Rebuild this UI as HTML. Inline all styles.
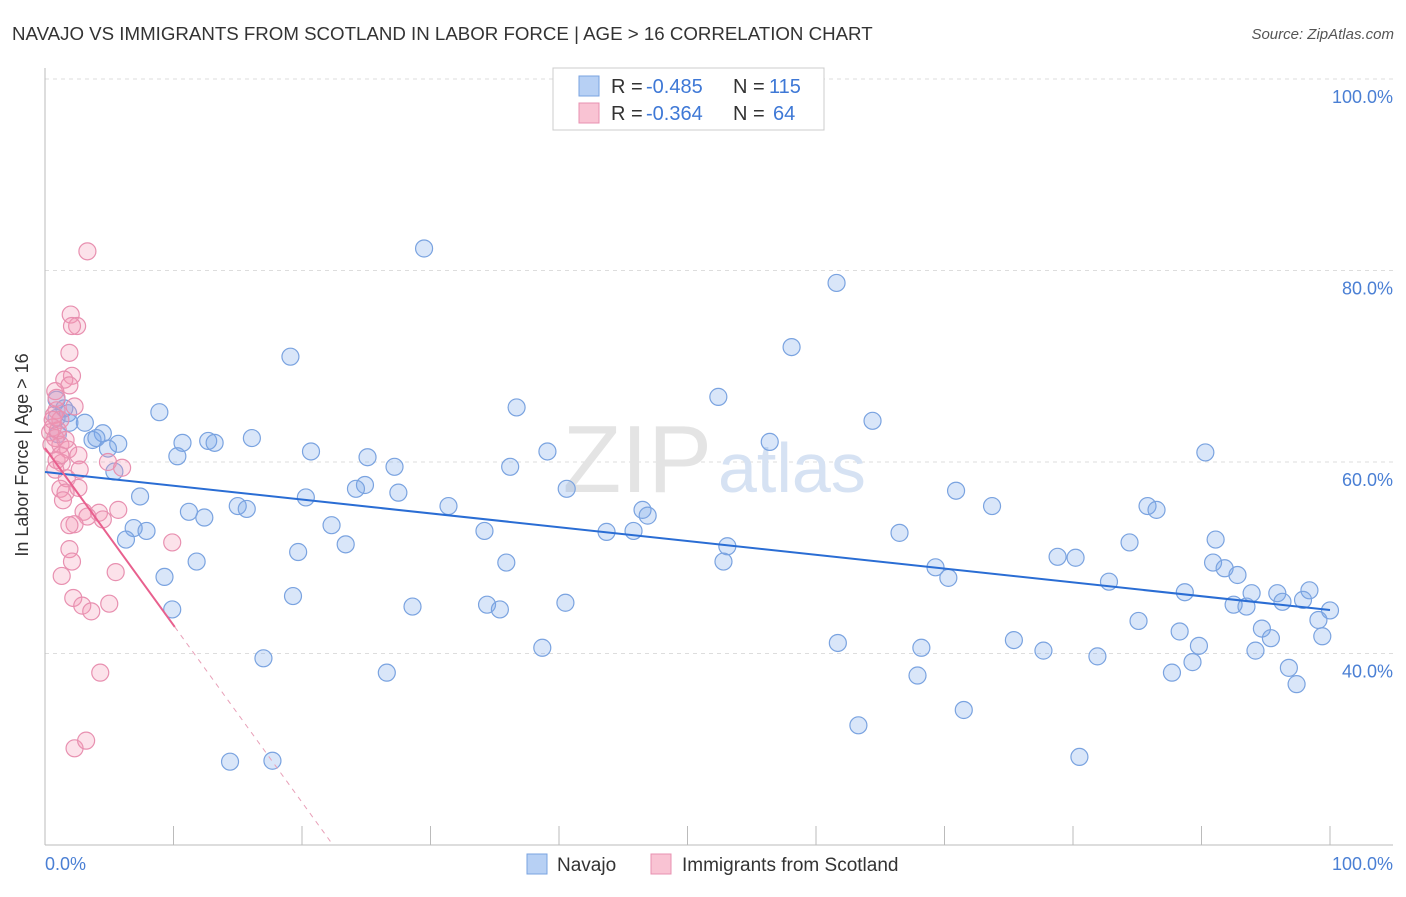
<!DOCTYPE html>
<html><head><meta charset="utf-8"><style>
body{margin:0;background:#fff;font-family:"Liberation Sans",sans-serif;}
svg text{font-family:"Liberation Sans",sans-serif;}
</style></head><body>
<svg width="1406" height="892">
<text x="12" y="40" font-size="18.7" fill="#333">NAVAJO VS IMMIGRANTS FROM SCOTLAND IN LABOR FORCE | AGE &gt; 16 CORRELATION CHART</text>
<text x="1394" y="39" font-size="15" fill="#555" text-anchor="end" font-style="italic">Source: ZipAtlas.com</text>
<g id="grid"></g>
<text x="712" y="492" font-size="96" fill="#e4e4e4" text-anchor="end" font-family="Liberation Serif">ZIP</text>
<text x="718" y="492" font-size="70" fill="#d6e2f3">atlas</text>
<line x1="45" y1="68" x2="45" y2="845" stroke="#bbb"/>
<line x1="45" y1="845" x2="1393" y2="845" stroke="#bbb"/>
<g id="ticks"></g>
<g id="pts"></g>
<g id="trends"></g>
<text x="28" y="455" font-size="18" fill="#333" text-anchor="middle" transform="rotate(-90 28 455)">In Labor Force | Age &gt; 16</text>
<text x="45" y="870" font-size="18" fill="#4a7fd4">0.0%</text>
<text x="1393" y="870" font-size="18" fill="#4a7fd4" text-anchor="end">100.0%</text>
<g>
<rect x="553" y="68" width="271" height="62" fill="#fff" stroke="#ccc"/>
<rect x="579" y="76" width="20" height="20" fill="#b7d0f4" stroke="#7aa3e0"/>
<rect x="579" y="103" width="20" height="20" fill="#f9c3d3" stroke="#e890b0"/>
<text x="611" y="93" font-size="20" fill="#333">R =</text>
<text x="646" y="93" font-size="20" fill="#3e78d6">-0.485</text>
<text x="733" y="93" font-size="20" fill="#333">N =</text>
<text x="769" y="93" font-size="20" fill="#3e78d6">115</text>
<text x="611" y="120" font-size="20" fill="#333">R =</text>
<text x="646" y="120" font-size="20" fill="#3e78d6">-0.364</text>
<text x="733" y="120" font-size="20" fill="#333">N =</text>
<text x="773" y="120" font-size="20" fill="#3e78d6">64</text>
</g>
<g>
<rect x="527" y="854" width="20" height="20" fill="#b7d0f4" stroke="#7aa3e0"/>
<text x="557" y="871" font-size="19" fill="#333">Navajo</text>
<rect x="651" y="854" width="20" height="20" fill="#f9c3d3" stroke="#e890b0"/>
<text x="682" y="871" font-size="19" fill="#333">Immigrants from Scotland</text>
</g>
</svg>
<script>
const yTicks=[40,60,80,100];
const yTickLabels=["40.0%","60.0%","80.0%","100.0%"];
const xTicks=[10,20,30,40,50,60,70,80,90,100];
const navajoX=[29.5,61.6,58.1,19.1,52.4,36.7,8.9,64.4,10.7,12.7,13.2,16.1,56.4,90.3,20.7,39.1,10.3,25.1,27.2,36.2,5.4,24.9,24.2,27.5,40.6,70.9,7.4,20.3,31.4,15.0,15.7,73.7,85.8,86.5,46.5,46.9,11.2,12.4,22.3,34.2,43.7,45.8,66.5,6.9,7.9,6.3,23.4,91.1,84.4,53.1,19.7,78.8,80.2,52.8,35.9,11.8,90.9,91.8,69.3,92.8,9.3,70.3,82.8,88.7,93.9,95.9,98.4,96.3,97.9,19.3,34.4,35.4,40.5,28.6,92.5,93.5,9.9,100,85.1,99.1,94.7,88.3,95.4,99.4,75.4,61.7,68.2,77.7,89.8,38.7,81.9,94.2,17.0,89.3,96.8,26.6,87.7,67.9,97.4,71.5,63.3,14.4,17.7,80.5,0.9,1.5,1.8,0.9,3.1,4.5,3.7,4.0,5.7,4.9,1.0,1.9];
const navajoY=[82.3,78.7,72.0,71.0,66.8,65.7,65.2,64.3,62.0,62.2,62.0,62.5,62.1,61.0,61.1,61.1,60.6,60.5,59.5,59.5,59.0,57.6,57.2,56.8,57.2,57.0,56.4,56.3,55.4,55.4,55.1,55.4,55.4,55.0,55.0,54.4,54.8,54.2,53.4,52.8,52.7,52.8,52.6,53.1,52.8,51.9,51.4,51.9,51.6,51.2,50.6,50.1,50.0,49.6,49.5,49.6,49.5,48.9,49.0,48.2,48.0,47.9,47.5,46.4,46.3,46.3,46.6,45.4,45.6,46.0,45.1,44.6,45.3,44.9,45.1,44.9,44.6,44.5,43.4,43.5,42.6,42.3,41.6,41.8,41.4,41.1,40.6,40.3,40.8,40.6,39.7,40.3,39.5,39.1,38.5,38.0,38.0,37.7,36.8,34.1,32.5,28.7,28.8,29.2,66.5,65.6,65.1,64.6,64.1,63.0,62.3,62.5,61.9,61.4,62.9,64.1];
const scotX=[3.3,2.0,2.5,2.1,1.9,2.1,1.5,1.9,0.8,2.3,0.9,0.7,1.2,0.6,0.4,0.8,1.2,1.8,2.6,0.9,1.3,4.9,6.0,0.8,1.7,2.6,1.2,1.6,1.4,3.0,4.2,5.7,4.5,3.3,2.3,1.9,1.9,2.1,9.9,5.5,1.3,2.2,2.9,5.0,3.6,4.3,2.3,3.2,0.9,1.0,0.5,1.6,2.7,1.2,0.6];
const scotY=[82.0,75.4,74.2,74.2,71.4,69.0,68.6,68.0,67.4,65.8,65.4,64.9,64.4,63.6,63.1,62.5,61.8,61.3,60.7,60.2,59.9,60.0,59.4,59.2,58.3,57.3,57.2,56.8,56.0,54.8,54.7,55.0,54.0,54.3,53.5,53.4,50.9,49.6,51.6,48.5,48.1,45.8,45.0,45.2,44.4,38.0,30.1,30.9,66.7,63.3,61.8,62.3,59.2,60.7,64.4];
const navajoTrend=[58.96,44.54];
const scotTrend=[61.46,-1.85];
const NS="http://www.w3.org/2000/svg";
const X=v=>45+v*12.85;
const Y=v=>845-(v-20)*9.575;
function mk(t,a,p){const e=document.createElementNS(NS,t);for(const k in a)e.setAttribute(k,a[k]);document.getElementById(p).appendChild(e);return e;}
yTicks.forEach((t,i)=>{
 const l=mk('line',{x1:45,x2:1393,y1:Y(t),y2:Y(t),stroke:'#ddd','stroke-dasharray':'4,4'},'grid');
 
 
 const tx=mk('text',{x:1393,y:Y(t)+24,'font-size':18,fill:'#4a7fd4','text-anchor':'end'},'grid');
 tx.textContent=yTickLabels[i];
 
 
});
xTicks.forEach(t=>{
 const l=mk('line',{x1:X(t),x2:X(t),y1:826,y2:845,stroke:'#bbb'},'ticks');
 
 
});
navajoX.forEach((x,i)=>{
 const c=mk('circle',{cx:X(x),cy:Y(navajoY[i]),r:8.5,fill:'rgba(120,165,235,0.28)',stroke:'#7aa3e0','stroke-width':1.2},'pts');
 
 
});
scotX.forEach((x,i)=>{
 const c=mk('circle',{cx:X(x),cy:Y(scotY[i]),r:8.5,fill:'rgba(245,150,180,0.28)',stroke:'#e890b0','stroke-width':1.2},'pts');
 
 
});
const bl=mk('line',{x1:X(0),y1:Y(navajoTrend[0]),x2:X(100),y2:Y(navajoTrend[1]),stroke:'#2a6dd4','stroke-width':2},'trends');


const sEnd=10.1, sZero=(20-scotTrend[0])/scotTrend[1];
const pl=mk('line',{x1:X(0),y1:Y(scotTrend[0]),x2:X(sEnd),y2:Y(scotTrend[0]+scotTrend[1]*sEnd),stroke:'#e8608e','stroke-width':2},'trends');


const pd=mk('line',{x1:X(sEnd),y1:Y(scotTrend[0]+scotTrend[1]*sEnd),x2:X(sZero),y2:Y(20),stroke:'#e8a0b8','stroke-width':1,'stroke-dasharray':'5,5'},'trends');


</script>
</body></html>
